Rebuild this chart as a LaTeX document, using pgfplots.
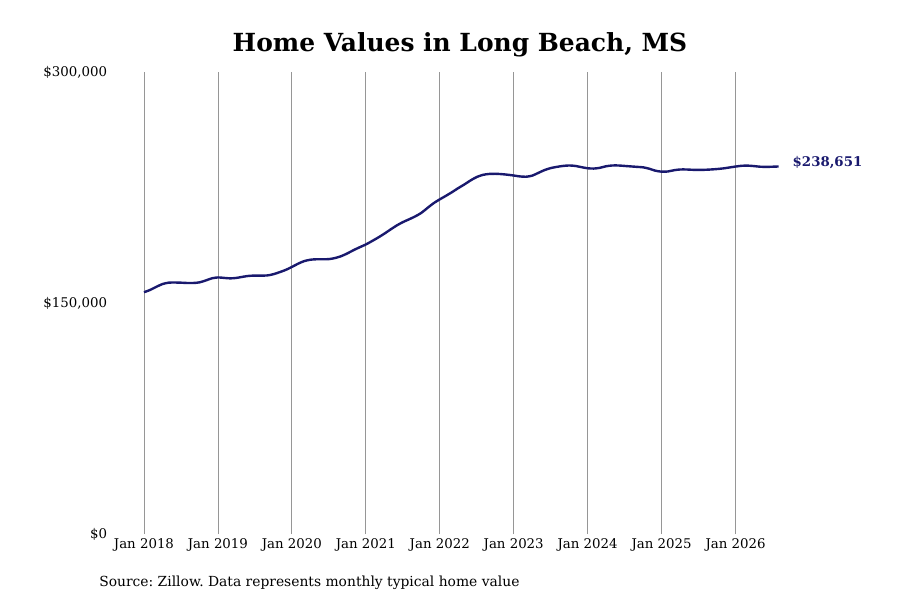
\documentclass[border=0pt]{standalone}
\usepackage{pgfplots}
\pgfplotsset{compat=1.18}
\usepackage{fontspec}
\setmainfont{DejaVu Serif}
\definecolor{linenavy}{RGB}{25,25,110}
\definecolor{gridgray}{RGB}{150,150,150}

% months since Jan 2018, typical home value
\pgfplotstableread{
m v
0 157000
1 158500
2 160500
3 162300
4 163200
5 163300
6 163200
7 163000
8 163000
9 163400
10 164600
11 166000
12 166600
13 166300
14 166000
15 166300
16 167000
17 167600
18 167800
19 167800
20 167900
21 168700
22 170000
23 171500
24 173400
25 175500
26 177200
27 178100
28 178400
29 178400
30 178500
31 179200
32 180400
33 182200
34 184300
35 186200
36 188000
37 190200
38 192500
39 195000
40 197700
41 200300
42 202500
43 204300
44 206200
45 208500
46 211700
47 214800
48 217300
49 219600
50 222000
51 224600
52 227000
53 229600
54 231800
55 233200
56 233800
57 233900
58 233700
59 233300
60 232800
61 232200
62 232000
63 232700
64 234500
65 236300
66 237600
67 238400
68 239000
69 239300
70 239000
71 238200
72 237500
73 237300
74 237800
75 238800
76 239300
77 239300
78 239000
79 238700
80 238400
81 238100
82 237200
83 235900
84 235300
85 235400
86 236200
87 236700
88 236700
89 236500
90 236400
91 236500
92 236700
93 237000
94 237400
95 238000
96 238600
97 239100
98 239200
99 238900
100 238500
101 238400
102 238500
103 238651
}\datatable

\begin{document}
\begin{tikzpicture}
\path[use as bounding box] (0pt,0pt) rectangle (675pt,-450pt);
\begin{axis}[
    at={(85.8pt,-400.5pt)}, anchor=south west,
    scale only axis,
    width=532.4pt, height=346.5pt,
    xmin=-4.8, xmax=110.4,
    ymin=0, ymax=300000,
    axis line style={draw=none},
    major tick length=0pt,
    xtick={0,12,24,36,48,60,72,84,96},
    xticklabels={Jan 2018,Jan 2019,Jan 2020,Jan 2021,Jan 2022,Jan 2023,Jan 2024,Jan 2025,Jan 2026},
    ytick={0,150000,300000},
    yticklabels={\$0,\$150{,}000,\$300{,}000},
    scaled y ticks=false,
    xmajorgrids,
    major grid style={gridgray, line width=0.6pt},
    tick label style={font=\fontsize{10}{12}\selectfont},
    yticklabel style={xshift=-2pt},
    clip=false,
]
\addplot[linenavy, line width=1.8pt, line join=round, smooth] table[x=m, y=v] {\datatable};
\node[anchor=west, xshift=7pt, yshift=3pt, text=linenavy, font=\fontsize{10}{12}\selectfont\bfseries]
    at (axis cs:103,238651) {\$238,651};
\end{axis}
\node[font=\fontsize{18.7}{22}\selectfont\bfseries] at (345pt,-33.75pt) {Home Values in Long Beach, MS};
\node[anchor=west, inner sep=0pt, font=\fontsize{10.4}{12}\selectfont\frenchspacing] at (74.25pt,-437.25pt)
    {Source: Zillow. Data represents monthly typical home value};
\end{tikzpicture}
\end{document}
